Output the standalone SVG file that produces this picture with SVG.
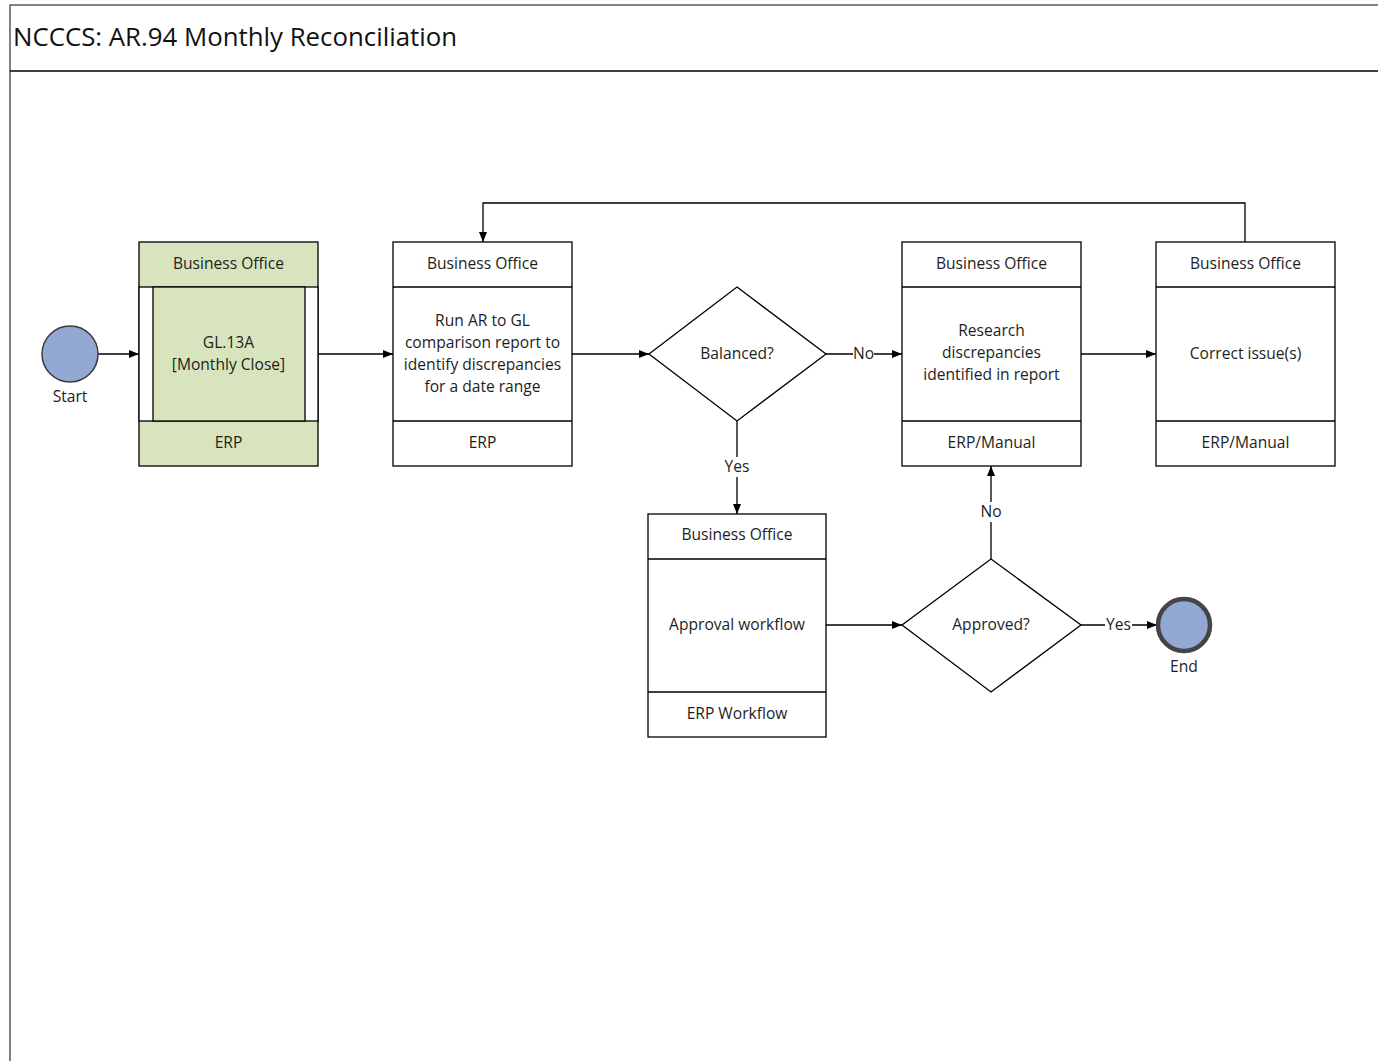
<svg xmlns="http://www.w3.org/2000/svg" width="1378" height="1061" viewBox="0 0 1378 1061">
  <defs>
    <marker id="arrow" viewBox="0 0 10 10" refX="10" refY="5" markerWidth="10" markerHeight="10" markerUnits="userSpaceOnUse" orient="auto">
      <path d="M0,1 L10,5 L0,9 z" fill="#000"/>
    </marker>
    <style>
      .frame { fill: #fff; stroke: #404040; stroke-width: 1.3; }
      .box { fill: #fff; stroke: #000; stroke-width: 1.3; }
      .green { fill: #d7e4bd; }
      .line { fill: none; stroke: #000; stroke-width: 1.3; }
      .flow { fill: none; stroke: #000; stroke-width: 1.3; marker-end: url(#arrow); }
      .t { font-family: "Open Sans", "Liberation Sans", sans-serif; font-size: 15.6px; fill: #1e1e1e; text-anchor: middle; }
      .title { font-family: "Open Sans", "Liberation Sans", sans-serif; font-size: 25.8px; fill: #111; }
      .lbl { font-family: "Open Sans", "Liberation Sans", sans-serif; font-size: 15.6px; fill: #1e1e1e; text-anchor: middle; }
      .lblbg { fill: #fff; }
    </style>
  </defs>

  <rect width="1378" height="1061" fill="#fff"/>

  <!-- pool frame with title band -->
  <g id="pool">
    <rect class="frame" x="10" y="5" width="1380" height="1070"/>
    <line class="line" x1="10" y1="71" x2="1378" y2="71" stroke="#404040"/>
    <text class="title" x="13" y="46">NCCCS: AR.94 Monthly Reconciliation</text>
  </g>

  <!-- connectors -->
  <g id="connectors">
    <line class="flow" x1="98" y1="354" x2="139" y2="354"/>
    <line class="flow" x1="318" y1="354" x2="393" y2="354"/>
    <line class="flow" x1="572" y1="354" x2="649" y2="354"/>
    <line class="flow" x1="826" y1="354" x2="902" y2="354"/>
    <line class="flow" x1="1081" y1="354" x2="1156" y2="354"/>
    <polyline class="flow" points="1245,242 1245,203 483,203 483,242"/>
    <line class="flow" x1="737" y1="421" x2="737" y2="514"/>
    <line class="flow" x1="826" y1="625" x2="902" y2="625"/>
    <line class="flow" x1="991" y1="559" x2="991" y2="466"/>
    <line class="flow" x1="1081" y1="625" x2="1157" y2="625"/>
    <!-- branch labels -->
    <rect class="lblbg" x="853" y="345" width="21" height="18"/>
    <text class="lbl" x="863.5" y="359">No</text>
    <rect class="lblbg" x="723" y="457" width="28" height="20"/>
    <text class="lbl" x="737" y="472">Yes</text>
    <rect class="lblbg" x="979" y="502" width="24" height="20"/>
    <text class="lbl" x="991" y="517">No</text>
    <rect class="lblbg" x="1105" y="616" width="27" height="18"/>
    <text class="lbl" x="1118.5" y="630">Yes</text>
  </g>

  <!-- start event -->
  <g id="start">
    <circle cx="70" cy="354" r="28" fill="#93a9d3" stroke="#3a3a3a" stroke-width="1.5"/>
    <text class="t" x="70" y="402">Start</text>
  </g>

  <!-- call activity GL.13A -->
  <g id="gl13a">
    <rect class="box green" x="139" y="242" width="179" height="224"/>
    <rect class="box" x="139" y="287" width="179" height="134" fill="#fff"/>
    <rect class="box green" x="153" y="287" width="152" height="134"/>
    <text class="t" x="228.5" y="269">Business Office</text>
    <text class="t" x="228.5" y="348">GL.13A</text>
    <text class="t" x="228.5" y="370">[Monthly Close]</text>
    <text class="t" x="228.5" y="448">ERP</text>
  </g>

  <!-- run comparison report -->
  <g id="run-report">
    <rect class="box" x="393" y="242" width="179" height="224"/>
    <line class="line" x1="393" y1="287" x2="572" y2="287"/>
    <line class="line" x1="393" y1="421" x2="572" y2="421"/>
    <text class="t" x="482.5" y="269">Business Office</text>
    <text class="t" x="482.5" y="326">Run AR to GL</text>
    <text class="t" x="482.5" y="348">comparison report to</text>
    <text class="t" x="482.5" y="370">identify discrepancies</text>
    <text class="t" x="482.5" y="392">for a date range</text>
    <text class="t" x="482.5" y="448">ERP</text>
  </g>

  <!-- balanced gateway -->
  <g id="balanced">
    <polygon class="box" points="737,287 826,354 737,421 649,354"/>
    <text class="t" x="737" y="359">Balanced?</text>
  </g>

  <!-- research discrepancies -->
  <g id="research">
    <rect class="box" x="902" y="242" width="179" height="224"/>
    <line class="line" x1="902" y1="287" x2="1081" y2="287"/>
    <line class="line" x1="902" y1="421" x2="1081" y2="421"/>
    <text class="t" x="991.5" y="269">Business Office</text>
    <text class="t" x="991.5" y="336">Research</text>
    <text class="t" x="991.5" y="358">discrepancies</text>
    <text class="t" x="991.5" y="380">identified in report</text>
    <text class="t" x="991.5" y="448">ERP/Manual</text>
  </g>

  <!-- correct issues -->
  <g id="correct">
    <rect class="box" x="1156" y="242" width="179" height="224"/>
    <line class="line" x1="1156" y1="287" x2="1335" y2="287"/>
    <line class="line" x1="1156" y1="421" x2="1335" y2="421"/>
    <text class="t" x="1245.5" y="269">Business Office</text>
    <text class="t" x="1245.5" y="359">Correct issue(s)</text>
    <text class="t" x="1245.5" y="448">ERP/Manual</text>
  </g>

  <!-- approval workflow -->
  <g id="approval">
    <rect class="box" x="648" y="514" width="178" height="223"/>
    <line class="line" x1="648" y1="559" x2="826" y2="559"/>
    <line class="line" x1="648" y1="692" x2="826" y2="692" stroke-width="2"/>
    <text class="t" x="737" y="540">Business Office</text>
    <text class="t" x="737" y="630">Approval workflow</text>
    <text class="t" x="737" y="719">ERP Workflow</text>
  </g>

  <!-- approved gateway -->
  <g id="approved">
    <polygon class="box" points="991,559 1081,625 991,692 902,625"/>
    <text class="t" x="991" y="630">Approved?</text>
  </g>

  <!-- end event -->
  <g id="end">
    <circle cx="1184" cy="625" r="26" fill="#93a9d3" stroke="#444" stroke-width="4.5"/>
    <text class="t" x="1184" y="672">End</text>
  </g>
</svg>
